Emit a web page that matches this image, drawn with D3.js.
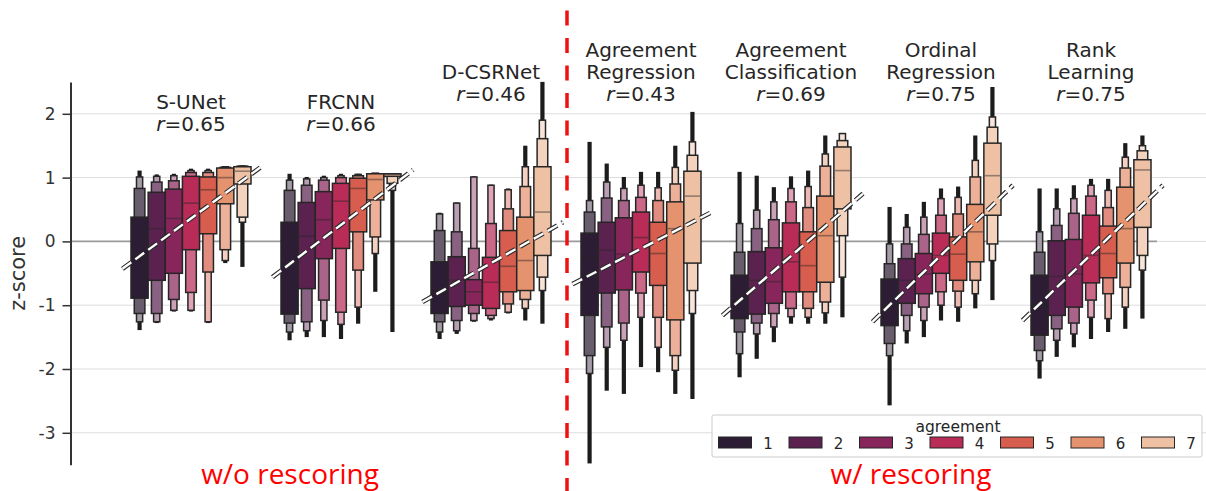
<!DOCTYPE html>
<html>
<head>
<meta charset="utf-8">
<script src="https://cdn.jsdelivr.net/npm/d3@7"></script>
<style>
  html, body { margin: 0; padding: 0; background: #fff; }
  svg { display: block; font-family: "DejaVu Sans", sans-serif; }
</style>
</head>
<body>
<svg id="chart" width="1206" height="491"></svg>
<script>
// z-score per agreement level, letter-value (boxen) plot per model

var models = ["S-UNet", "FRCNN", "D-CSRNet", "Agreement Regression",
              "Agreement Classification", "Ordinal Regression", "Rank Learning"];
var titleLines = [["S-UNet"], ["FRCNN"], ["D-CSRNet"], ["Agreement", "Regression"],
                  ["Agreement", "Classification"], ["Ordinal", "Regression"], ["Rank", "Learning"]];
var rValues = ["0.65", "0.66", "0.46", "0.43", "0.69", "0.75", "0.75"];
var agreement = [1, 2, 3, 4, 5, 6, 7];
var palette = ["#2c1c34", "#5b2250", "#88265b", "#b82c57", "#d75e4e", "#e5926f", "#eec0a4"];
var yTicks = [-3, -2, -1, 0, 1, 2];

// one row per agreement level:
// [median, q1, q3, lv1 lo, lv1 hi, lv2 lo, lv2 hi, tail lo, tail hi]
var sUNet = [
  [-0.25, -0.89, 0.38, -1.13, 0.83, -1.26, 1.01, -1.39, 1.11],
  [0.20, -0.61, 0.77, -1.13, 0.93, -1.26, 1.02, -1.28, 1.05],
  [0.36, -0.50, 0.82, -0.91, 0.95, -1.08, 1.03, -1.10, 1.06],
  [0.60, -0.13, 1.02, -0.80, 1.08, -1.08, 1.11, -1.10, 1.14],
  [0.81, 0.12, 1.01, -0.48, 1.08, -1.26, 1.11, -1.28, 1.14],
  [1.00, 0.59, 1.15, -0.13, 1.16, -0.30, 1.17, -0.34, 1.18],
  [1.10, 0.90, 1.17, 0.38, 1.18, 0.30, 1.18, -0.40, 1.19]
];
var frcnn = [
  [-0.35, -1.14, 0.30, -1.28, 0.80, -1.42, 0.96, -1.55, 1.06],
  [0.08, -0.74, 0.61, -1.26, 0.88, -1.40, 0.98, -1.50, 1.01],
  [0.34, -0.27, 0.78, -0.92, 0.96, -1.24, 1.00, -1.50, 1.03],
  [0.63, -0.11, 0.91, -1.11, 1.00, -1.30, 1.03, -1.53, 1.06],
  [0.83, 0.15, 0.99, -0.45, 1.03, -1.03, 1.05, -1.29, 1.06],
  [0.97, 0.65, 1.06, 0.07, 1.06, -0.19, 1.07, -0.79, 1.07],
  [1.05, 1.02, 1.06, 0.91, 1.06, 0.80, 1.06, -1.42, 1.07]
];
var dCSRNet = [
  [-0.75, -1.13, -0.32, -1.26, 0.17, -1.42, 0.43, -1.53, 0.45],
  [-0.61, -1.02, -0.24, -1.24, 0.15, -1.40, 0.60, -1.45, 0.61],
  [-0.79, -1.00, -0.60, -1.13, -0.11, -1.24, 1.01, -1.26, 1.02],
  [-0.64, -1.05, -0.25, -1.16, 0.28, -1.21, 0.88, -1.24, 0.89],
  [-0.39, -0.79, 0.17, -0.98, 0.51, -1.11, 0.81, -1.13, 0.83],
  [-0.30, -0.77, 0.38, -0.91, 0.86, -1.05, 1.17, -1.24, 1.50],
  [0.46, -0.22, 1.17, -0.56, 1.61, -0.77, 1.90, -1.29, 2.50]
];
var agreeRegression = [
  [-0.25, -1.16, 0.13, -1.79, 0.46, -2.07, 0.64, -3.48, 1.56],
  [-0.14, -0.81, 0.30, -1.34, 0.68, -1.66, 0.93, -2.34, 1.22],
  [-0.20, -0.76, 0.37, -1.28, 0.64, -1.55, 0.83, -2.39, 1.01],
  [0.06, -0.48, 0.46, -0.81, 0.69, -1.19, 0.88, -1.97, 1.09],
  [-0.19, -0.69, 0.30, -1.19, 0.64, -1.66, 0.84, -2.05, 1.09],
  [0.20, -1.23, 0.62, -1.79, 0.90, -2.02, 1.16, -2.39, 1.50],
  [0.71, -0.34, 1.10, -0.77, 1.35, -1.13, 1.56, -2.47, 2.03]
];
var agreeClassification = [
  [-0.85, -1.21, -0.53, -1.42, -0.17, -1.76, 0.28, -2.13, 1.09],
  [-0.61, -1.14, -0.16, -1.28, 0.20, -1.45, 0.49, -1.84, 1.03],
  [-0.63, -0.97, -0.10, -1.13, 0.34, -1.34, 0.62, -1.58, 0.85],
  [-0.32, -0.79, 0.29, -1.05, 0.62, -1.18, 0.83, -1.29, 1.02],
  [-0.38, -0.79, 0.15, -1.05, 0.53, -1.19, 0.86, -1.29, 1.11],
  [0.09, -0.64, 0.71, -0.95, 1.18, -1.12, 1.37, -1.29, 1.66],
  [1.11, 0.51, 1.48, 0.09, 1.58, -0.56, 1.69, -1.19, 1.70]
];
var ordinalRegression = [
  [-1.00, -1.32, -0.59, -1.60, -0.35, -1.79, -0.04, -2.57, 0.54],
  [-0.61, -0.97, -0.27, -1.16, -0.04, -1.40, 0.22, -1.60, 0.43],
  [-0.51, -0.82, -0.19, -1.03, 0.11, -1.24, 0.38, -1.50, 0.62],
  [-0.22, -0.50, 0.13, -0.79, 0.41, -1.00, 0.67, -1.24, 0.83],
  [-0.20, -0.61, 0.07, -0.78, 0.43, -1.03, 0.69, -1.26, 0.86],
  [0.15, -0.32, 0.58, -0.61, 1.01, -0.82, 1.27, -1.05, 1.66],
  [1.03, 0.41, 1.54, -0.04, 1.79, -0.30, 1.95, -0.92, 2.42]
];
var rankLearning = [
  [-1.00, -1.47, -0.53, -1.71, -0.17, -1.87, 0.15, -2.15, 0.83],
  [-0.55, -1.16, 0.01, -1.37, 0.25, -1.55, 0.51, -1.81, 0.83],
  [-0.51, -1.03, 0.03, -1.28, 0.44, -1.45, 0.67, -1.66, 0.88],
  [-0.22, -0.65, 0.41, -0.92, 0.71, -1.19, 0.88, -1.53, 0.98],
  [-0.19, -0.57, 0.24, -0.82, 0.53, -1.21, 0.80, -1.42, 0.98],
  [0.20, -0.34, 0.85, -0.72, 1.15, -1.03, 1.32, -1.37, 1.54],
  [1.12, 0.22, 1.28, -0.22, 1.42, -0.45, 1.50, -1.21, 1.66]
];
var stats = [sUNet, frcnn, dCSRNet, agreeRegression, agreeClassification,
             ordinalRegression, rankLearning];

// fitted line value at agreement 0 and at agreement 8.2
var fitFrom = [0, 8.2];
var fitEnds = [[-0.43, 1.19], [-0.56, 1.12], [-0.95, 0.30], [-0.67, 0.47],
               [-1.16, 0.75], [-1.26, 0.88], [-1.24, 0.88]];

///////////////////////////////////////////////////////////////////////////////
// Layout
///////////////////////////////////////////////////////////////////////////////

var svg = d3.select("#chart");
var ink = "#262626";
var axisX = 70.5;

var y = d3.scaleLinear().domain([-3.5, 2.5]).range([464.7, 81.9]);
var x = d3.scaleBand().domain(models).range([116, 1166]);
var groupW = x.bandwidth() * 0.8;

function agreeScale (model) {
  var c = x(model) + x.bandwidth() / 2;
  return d3.scaleLinear().domain([0.5, 7.5]).range([c - groupW / 2, c + groupW / 2]);
}

// level colours blend toward white like seaborn's boxenplot
function levelColor (base, t) {
  return d3.interpolateRgb(base, "#ffffff")(t);
}

// grid
svg.append("g").selectAll("line").data(yTicks).enter().append("line")
  .attr("x1", axisX).attr("x2", 1206)
  .attr("y1", function (d) { return y(d); })
  .attr("y2", function (d) { return y(d); })
  .attr("stroke", "#dcdcdc").attr("stroke-width", 1);

// zero reference line
svg.append("line")
  .attr("x1", axisX).attr("x2", 1157)
  .attr("y1", y(0)).attr("y2", y(0))
  .attr("stroke", "#9a9a9a").attr("stroke-width", 1.6);

// y axis
var yAxis = d3.axisLeft(y).tickValues(yTicks).tickSize(8).tickSizeOuter(0)
  .tickFormat(function (d) { return String(d); });
var ag = svg.append("g").attr("transform", "translate(" + axisX + ",0)").call(yAxis);
ag.select(".domain").attr("stroke", "#333").attr("stroke-width", 2);
ag.selectAll(".tick line").attr("stroke", "#333").attr("stroke-width", 1.5);
ag.selectAll(".tick text").attr("x", -15).attr("fill", "#333")
  .style("font-size", "17px").style("font-family", "DejaVu Sans");

svg.append("text")
  .attr("transform", "translate(25," + y(-0.5) + ") rotate(-90)")
  .attr("text-anchor", "middle")
  .attr("fill", "#333").style("font-size", "21px")
  .text("z-score");

///////////////////////////////////////////////////////////////////////////////
// Boxen plots
///////////////////////////////////////////////////////////////////////////////

var levelWidths = [1, 0.62, 0.36];
var levelBlend = [0, 0.283, 0.567];
var boxW = groupW / agreement.length;

models.forEach(function (model, gi) {
  var ax = agreeScale(model);
  var g = svg.append("g").attr("class", "group");

  stats[gi].forEach(function (row, ai) {
    var cx = ax(agreement[ai]);
    var base = palette[ai];
    var levels = [[row[1], row[2]], [row[3], row[4]], [row[5], row[6]]];

    // outliers stack into a dark stem
    g.append("rect")
      .attr("x", cx - 2.1).attr("width", 4.2)
      .attr("y", y(row[8])).attr("height", y(row[7]) - y(row[8]))
      .attr("fill", "#1c1c1c");

    // outer levels first, innermost on top
    for (var li = levels.length - 1; li >= 0; li--) {
      var w = boxW * levelWidths[li];
      g.append("rect")
        .attr("x", cx - w / 2).attr("width", w)
        .attr("y", y(levels[li][1]))
        .attr("height", Math.max(0.5, y(levels[li][0]) - y(levels[li][1])))
        .attr("fill", levelColor(base, levelBlend[li]))
        .attr("stroke", ink).attr("stroke-width", 1.5);
    }

    g.append("line")
      .attr("x1", cx - boxW / 2 + 1).attr("x2", cx + boxW / 2 - 1)
      .attr("y1", y(row[0])).attr("y2", y(row[0]))
      .attr("stroke", ink).attr("stroke-opacity", 0.45).attr("stroke-width", 1.6);
  });

  // fitted trend: white dashes with dark rims
  var fx = fitFrom.map(function (a) { return ax(a); });
  var fy = fitEnds[gi].map(function (v) { return y(v); });
  [["#2a2a2a", 4.6], ["#ffffff", 2.4]].forEach(function (s) {
    g.append("line")
      .attr("x1", fx[0]).attr("x2", fx[1])
      .attr("y1", fy[0]).attr("y2", fy[1])
      .attr("stroke", s[0]).attr("stroke-width", s[1])
      .attr("stroke-dasharray", "11,5");
  });
});

///////////////////////////////////////////////////////////////////////////////
// Titles
///////////////////////////////////////////////////////////////////////////////

var lineGap = 22;
// baseline of the r= line for each model
var titleBase = [131, 131, 101, 101, 101, 101, 101];

models.forEach(function (model, gi) {
  var cx = x(model) + x.bandwidth() / 2;
  var lines = titleLines[gi];
  var t = svg.append("g").attr("fill", ink).style("font-size", "20px")
    .attr("text-anchor", "middle");
  lines.forEach(function (ln, li) {
    t.append("text")
      .attr("x", cx).attr("y", titleBase[gi] - (lines.length - li) * lineGap)
      .text(ln);
  });
  var rt = t.append("text").attr("x", cx).attr("y", titleBase[gi]);
  rt.append("tspan").style("font-style", "italic").text("r");
  rt.append("tspan").text("=" + rValues[gi]);
});

///////////////////////////////////////////////////////////////////////////////
// Divider, captions, legend
///////////////////////////////////////////////////////////////////////////////

svg.append("line")
  .attr("x1", 567).attr("x2", 567).attr("y1", 10.5).attr("y2", 491)
  .attr("stroke", "#f01010").attr("stroke-width", 3.5)
  .attr("stroke-dasharray", "15,12.5");

var captions = [["w/o rescoring", 290], ["w/ rescoring", 911]];
svg.selectAll(".caption").data(captions).enter().append("text")
  .attr("class", "caption")
  .attr("x", function (d) { return d[1]; }).attr("y", 484)
  .attr("text-anchor", "middle")
  .attr("fill", "#ff0000")
  .style("font-family", "Open Sans").style("font-size", "28px")
  .text(function (d) { return d[0]; });

var lg = svg.append("g");
lg.append("rect")
  .attr("x", 712).attr("y", 415).attr("width", 490).attr("height", 42)
  .attr("rx", 2).attr("fill", "#fff").attr("fill-opacity", 0.85)
  .attr("stroke", "#cccccc").attr("stroke-width", 1);
lg.append("text")
  .attr("x", 958).attr("y", 432).attr("text-anchor", "middle")
  .attr("fill", ink).style("font-size", "15.5px")
  .text("agreement");
var step = 70.5;
var items = lg.selectAll(".item").data(agreement).enter().append("g").attr("class", "item");
items.append("rect")
  .attr("x", function (d, i) { return 718.5 + i * step; })
  .attr("y", 437).attr("width", 33).attr("height", 11)
  .attr("fill", function (d, i) { return palette[i]; })
  .attr("stroke", ink).attr("stroke-width", 1);
items.append("text")
  .attr("x", function (d, i) { return 768 + i * step; })
  .attr("y", 448.5).attr("text-anchor", "middle")
  .attr("fill", ink).style("font-size", "15px")
  .text(function (d) { return d; });
</script>
</body>
</html>
